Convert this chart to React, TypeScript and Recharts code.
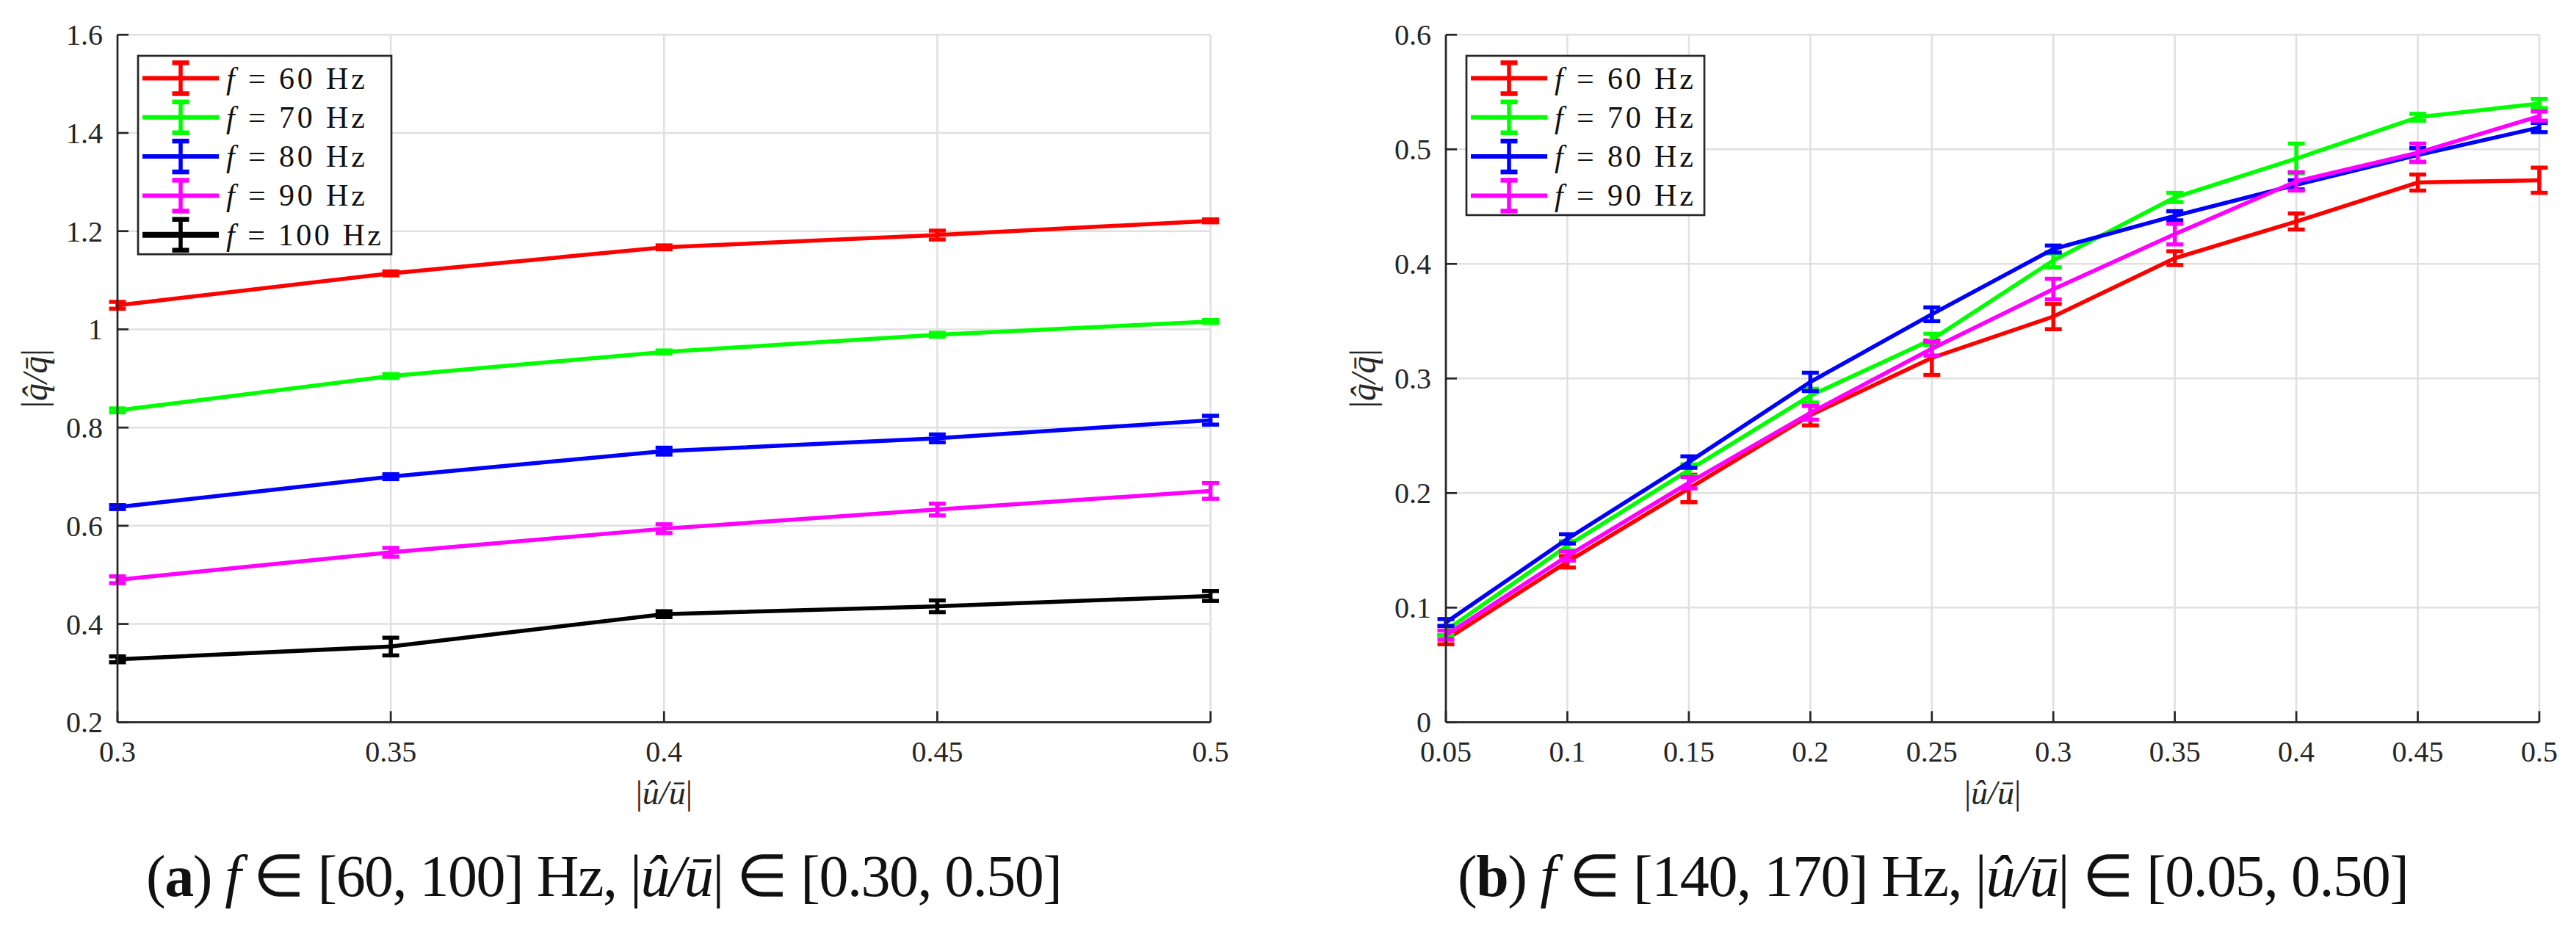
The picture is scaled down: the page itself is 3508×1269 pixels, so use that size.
import { LineChart, Line, XAxis, YAxis, CartesianGrid, ErrorBar, Label } from "recharts";

const SERIF = "Liberation Serif, Times New Roman, serif";
const INK = "#262626";
const GRID = "#e0e0e0";

const RED = "#ff0000";
const GREEN = "#00ff00";
const BLUE = "#0000ff";
const MAGENTA = "#ff00ff";
const BLACK = "#000000";

// (a) f in [60, 100] Hz, |u/u| in [0.30, 0.50]
const U_A = [0.3, 0.35, 0.4, 0.45, 0.5];
const Q_A_60 = [1.049, 1.114, 1.167, 1.192, 1.221];
const E_A_60 = [0.007, 0.004, 0.004, 0.009, 0.003];
const Q_A_70 = [0.835, 0.905, 0.954, 0.989, 1.016];
const E_A_70 = [0.004, 0.004, 0.003, 0.004, 0.003];
const Q_A_80 = [0.638, 0.7, 0.752, 0.778, 0.815];
const E_A_80 = [0.004, 0.005, 0.007, 0.008, 0.009];
const Q_A_90 = [0.49, 0.546, 0.594, 0.633, 0.671];
const E_A_90 = [0.007, 0.009, 0.009, 0.012, 0.016];
const Q_A_100 = [0.328, 0.354, 0.42, 0.436, 0.457];
const E_A_100 = [0.006, 0.018, 0.006, 0.012, 0.01];
const X_TICKS_A = [0.3, 0.35, 0.4, 0.45, 0.5];
const Y_TICKS_A = [0.2, 0.4, 0.6, 0.8, 1, 1.2, 1.4, 1.6];

// (b) f in [140, 170] Hz, |u/u| in [0.05, 0.50]
const U_B = [0.05, 0.1, 0.15, 0.2, 0.25, 0.3, 0.35, 0.4, 0.45, 0.5];
const Q_B_60 = [0.072, 0.14, 0.204, 0.268, 0.318, 0.354, 0.405, 0.437, 0.471, 0.473];
const E_B_60 = [0.004, 0.005, 0.012, 0.009, 0.015, 0.011, 0.006, 0.007, 0.007, 0.011];
const Q_B_70 = [0.08, 0.154, 0.22, 0.285, 0.334, 0.403, 0.458, 0.492, 0.528, 0.54];
const E_B_70 = [0.004, 0.004, 0.005, 0.006, 0.005, 0.006, 0.004, 0.013, 0.003, 0.004];
const Q_B_80 = [0.087, 0.16, 0.227, 0.297, 0.356, 0.413, 0.442, 0.469, 0.495, 0.519];
const E_B_80 = [0.003, 0.004, 0.005, 0.008, 0.006, 0.003, 0.004, 0.004, 0.006, 0.004];
const Q_B_90 = [0.076, 0.145, 0.209, 0.27, 0.326, 0.378, 0.426, 0.472, 0.497, 0.529];
const E_B_90 = [0.004, 0.004, 0.005, 0.006, 0.006, 0.009, 0.009, 0.008, 0.008, 0.004];
const X_TICKS_B = [0.05, 0.1, 0.15, 0.2, 0.25, 0.3, 0.35, 0.4, 0.45, 0.5];
const Y_TICKS_B = [0, 0.1, 0.2, 0.3, 0.4, 0.5, 0.6];

type Series = { key: string; hz: string; color: string; q: number[]; e: number[] };

const SERIES_A: Series[] = [
  { key: "f60", hz: "60", color: RED, q: Q_A_60, e: E_A_60 },
  { key: "f70", hz: "70", color: GREEN, q: Q_A_70, e: E_A_70 },
  { key: "f80", hz: "80", color: BLUE, q: Q_A_80, e: E_A_80 },
  { key: "f90", hz: "90", color: MAGENTA, q: Q_A_90, e: E_A_90 },
  { key: "f100", hz: "100", color: BLACK, q: Q_A_100, e: E_A_100 },
];

const SERIES_B: Series[] = [
  { key: "f60", hz: "60", color: RED, q: Q_B_60, e: E_B_60 },
  { key: "f70", hz: "70", color: GREEN, q: Q_B_70, e: E_B_70 },
  { key: "f80", hz: "80", color: BLUE, q: Q_B_80, e: E_B_80 },
  { key: "f90", hz: "90", color: MAGENTA, q: Q_B_90, e: E_B_90 },
];

function buildRows(us: number[], series: Series[]) {
  return us.map((u, i) => {
    const row: Record<string, number> = { u };
    series.forEach((s) => {
      row[s.key] = s.q[i];
      row[s.key + "_e"] = s.e[i];
    });
    return row;
  });
}

const ROWS_A = buildRows(U_A, SERIES_A);
const ROWS_B = buildRows(U_B, SERIES_B);

const HEIGHT = 1269;
const PLOT_TOP = 47.3;
const PLOT_BOTTOM = 983.3;
const X_AXIS_H = 80;
const Y_AXIS_W = 100;

// tick labels drawn by hand so the serif face is certain
function XTick({ x, y, payload }: any) {
  return (
    <text x={x} y={y} dy={28} textAnchor="middle" fontFamily={SERIF} fontSize={40} fill={INK}>
      {String(payload.value)}
    </text>
  );
}

function YTick({ x, y, payload }: any) {
  return (
    <text x={x} y={y} dy={14} textAnchor="end" fontFamily={SERIF} fontSize={40} fill={INK}>
      {String(payload.value)}
    </text>
  );
}

function XTitle({ viewBox }: any) {
  if (!viewBox) return null;
  return (
    <text
      x={viewBox.x + viewBox.width / 2}
      y={PLOT_BOTTOM + 112}
      textAnchor="middle"
      fontFamily={SERIF}
      fontSize={46}
      fill={INK}
    >
      |<tspan fontStyle="italic">{"û/ū"}</tspan>|
    </text>
  );
}

function YTitle({ viewBox }: any) {
  if (!viewBox) return null;
  const x = viewBox.x - 13;
  const y = (PLOT_TOP + PLOT_BOTTOM) / 2;
  return (
    <text
      x={x}
      y={y}
      transform={`rotate(-90 ${x} ${y})`}
      textAnchor="middle"
      dominantBaseline="central"
      fontFamily={SERIF}
      fontSize={48}
      fill={INK}
    >
      |<tspan fontStyle="italic">{"q\u0302/q\u0304"}</tspan>|
    </text>
  );
}

type LegendProps = { series: Series[]; left: number; width: number; lineX0: number; lineX1: number; textX: number };

function LegendBox({ series, left, width, lineX0, lineX1, textX }: LegendProps) {
  const rowH = 53.3;
  const firstRow = 30.5;
  const height = firstRow * 2 + rowH * (series.length - 1) - 4;
  const midX = (lineX0 + lineX1) / 2;
  return (
    <svg
      width={width + 4}
      height={height + 4}
      style={{ position: "absolute", left: left - 2, top: 75.7 - 2, overflow: "visible" }}
    >
      <rect x={2} y={2} width={width} height={height} fill="#fff" stroke={INK} strokeWidth={2.7} />
      {series.map((s, i) => {
        const cy = 2 + firstRow + i * rowH;
        const lw = s.color === BLACK ? 8 : 6;
        return (
          <g key={s.key}>
            <line x1={lineX0} x2={lineX1} y1={cy} y2={cy} stroke={s.color} strokeWidth={lw} />
            <line x1={midX} x2={midX} y1={cy - 21} y2={cy + 21} stroke={s.color} strokeWidth={5.5} />
            <line x1={midX - 11.5} x2={midX + 11.5} y1={cy - 21} y2={cy - 21} stroke={s.color} strokeWidth={6.5} />
            <line x1={midX - 11.5} x2={midX + 11.5} y1={cy + 21} y2={cy + 21} stroke={s.color} strokeWidth={6.5} />
            <text
              x={textX}
              y={cy + 14}
              fontFamily={SERIF}
              fontSize={42}
              fill="#111"
              textLength={s.hz.length > 2 ? 211 : 189}
              lengthAdjust="spacing"
            >
              <tspan fontStyle="italic">f</tspan>
              {` = ${s.hz} Hz`}
            </text>
          </g>
        );
      })}
    </svg>
  );
}

type PanelProps = {
  left: number;
  width: number;
  marginLeft: number;
  marginRight: number;
  rows: Record<string, number>[];
  series: Series[];
  xDomain: [number, number];
  xTicks: number[];
  yDomain: [number, number];
  yTicks: number[];
  legendWidth: number;
  tag: string;
  fRange: string;
  uRange: string;
  captionX: number;
  captionW: number;
};

function Panel(p: PanelProps) {
  const plotLeft = p.marginLeft + Y_AXIS_W;
  const axisLine = { stroke: INK, strokeWidth: 2.7 };
  return (
    <div style={{ position: "absolute", left: p.left, top: 0, width: p.width, height: HEIGHT }}>
      <LineChart
        width={p.width}
        height={HEIGHT}
        data={p.rows}
        margin={{
          top: PLOT_TOP,
          right: p.marginRight,
          left: p.marginLeft,
          bottom: HEIGHT - PLOT_BOTTOM - X_AXIS_H,
        }}
      >
        <CartesianGrid stroke={GRID} strokeWidth={2.5} />
        <XAxis
          dataKey="u"
          type="number"
          domain={p.xDomain}
          ticks={p.xTicks}
          height={X_AXIS_H}
          axisLine={axisLine}
          tickLine={axisLine}
          tickSize={-15}
          tickMargin={41}
          tick={XTick}
          interval={0}
        >
          <Label content={XTitle} />
        </XAxis>
        <XAxis
          xAxisId="top"
          orientation="top"
          dataKey="u"
          type="number"
          domain={p.xDomain}
          ticks={p.xTicks}
          height={0}
          axisLine={axisLine}
          tickLine={axisLine}
          tickSize={-15}
          tick={false}
          interval={0}
        />
        <YAxis
          type="number"
          domain={p.yDomain}
          ticks={p.yTicks}
          width={Y_AXIS_W}
          axisLine={axisLine}
          tickLine={axisLine}
          tickSize={-15}
          tickMargin={35}
          tick={YTick}
          interval={0}
        >
          <Label content={YTitle} />
        </YAxis>
        <YAxis
          yAxisId="right"
          orientation="right"
          type="number"
          domain={p.yDomain}
          ticks={p.yTicks}
          width={0}
          axisLine={axisLine}
          tickLine={axisLine}
          tickSize={-15}
          tick={false}
          interval={0}
        />
        {p.series.map((s) => (
          <Line
            key={s.key}
            type="linear"
            dataKey={s.key}
            stroke={s.color}
            strokeWidth={5.5}
            dot={false}
            activeDot={false}
            isAnimationActive={false}
          >
            <ErrorBar
              dataKey={s.key + "_e"}
              direction="y"
              width={11.5}
              stroke={s.color}
              strokeWidth={5.5}
              isAnimationActive={false}
            />
          </Line>
        ))}
      </LineChart>
      <LegendBox
        series={p.series}
        left={plotLeft + 28}
        width={p.legendWidth}
        lineX0={8}
        lineX1={112}
        textX={122}
      />
      <svg
        width={p.width}
        height={HEIGHT}
        style={{ position: "absolute", left: 0, top: 0, pointerEvents: "none" }}
      >
        <text
          x={p.captionX}
          y={1220}
          fontFamily={SERIF}
          fontSize={80}
          fill="#111"
          textLength={p.captionW}
          lengthAdjust="spacing"
        >
          (<tspan fontWeight="bold">{p.tag}</tspan>){" "}
          <tspan fontStyle="italic">f</tspan>
          {` ∈ [${p.fRange}] Hz, |`}
          <tspan fontStyle="italic">{"û/ū"}</tspan>
          {`| ∈ [${p.uRange}]`}
        </text>
      </svg>
    </div>
  );
}

export default function App() {
  return (
    <div
      style={{
        position: "absolute",
        left: 0,
        top: 0,
        width: 3508,
        height: HEIGHT,
        background: "#fff",
        overflow: "hidden",
      }}
    >
      <Panel
        left={0}
        width={1750}
        marginLeft={60}
        marginRight={101.5}
        rows={ROWS_A}
        series={SERIES_A}
        xDomain={[0.3, 0.5]}
        xTicks={X_TICKS_A}
        yDomain={[0.2, 1.6]}
        yTicks={Y_TICKS_A}
        legendWidth={345}
        tag="a"
        fRange="60, 100"
        uRange="0.30, 0.50"
        captionX={199}
        captionW={1248}
      />
      <Panel
        left={1750}
        width={1758}
        marginLeft={119}
        marginRight={50}
        rows={ROWS_B}
        series={SERIES_B}
        xDomain={[0.05, 0.5]}
        xTicks={X_TICKS_B}
        yDomain={[0, 0.6]}
        yTicks={Y_TICKS_B}
        legendWidth={324}
        tag="b"
        fRange="140, 170"
        uRange="0.05, 0.50"
        captionX={235}
        captionW={1296}
      />
    </div>
  );
}
